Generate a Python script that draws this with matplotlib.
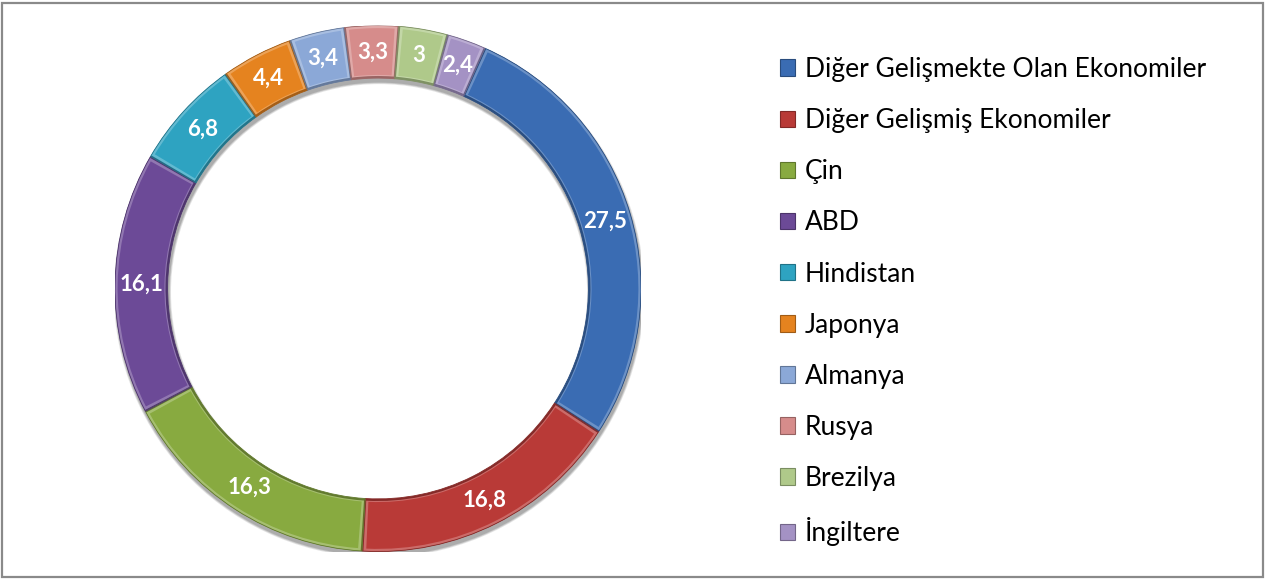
import matplotlib
matplotlib.use("Agg")
import matplotlib.pyplot as plt
from matplotlib.patches import Wedge, Patch, Rectangle
import matplotlib.colors as mcolors
import numpy as np

plt.rcParams['font.family'] = ['Lato', 'DejaVu Sans']

categories = ["Diğer Gelişmekte Olan Ekonomiler", "Diğer Gelişmiş Ekonomiler", "Çin", "ABD",
              "Hindistan", "Japonya", "Almanya", "Rusya", "Brezilya", "İngiltere"]
values = [27.5, 16.8, 16.3, 16.1, 6.8, 4.4, 3.4, 3.3, 3.0, 2.4]
value_labels = ["27,5", "16,8", "16,3", "16,1", "6,8", "4,4", "3,4", "3,3", "3", "2,4"]
colors = ["#3A6CB3", "#B93A37", "#88AA40", "#6C4A97", "#2EA3C1", "#E5831F",
          "#8BA8D7", "#D68C8B", "#AFC98A", "#A492C4"]

W, H, DPI = 1267, 579, 100
fig = plt.figure(figsize=(W / DPI, H / DPI), dpi=DPI)
fig.patch.set_facecolor("white")

cx, cy, R = 378, 288.5, 263
ax = fig.add_axes([(cx - R) / W, (H - cy - R) / H, 2 * R / W, 2 * R / H])

width = 0.2
# soft shadow
for k, a in [(0.018, 0.10), (0.012, 0.12), (0.006, 0.14)]:
    ax.add_patch(Wedge((0.004, -0.014), 1.0 + k * 0.5, 0, 360, width=width + k,
                       facecolor="#000000", edgecolor="none", alpha=a, zorder=0))

wedges, _ = ax.pie(values, startangle=66, counterclock=False, colors=colors,
                   radius=1.0, wedgeprops=dict(width=width, edgecolor="none"))
ax.set_xlim(-1, 1)
ax.set_ylim(-1, 1)
ax.set_aspect("equal")
ax.axis("off")

for w, c in zip(wedges, colors):
    rgb = np.array(mcolors.to_rgb(c))
    dark = np.clip(rgb * 0.72, 0, 1)
    light = np.clip(rgb + (1 - rgb) * 0.25, 0, 1)
    w.set_facecolor(dark)
    w.set_zorder(2)
    t1, t2 = w.theta1, w.theta2
    # lighter bevel band
    ax.add_patch(Wedge((0, 0), 1.0, t1 + 0.3, t2 - 0.3, width=width - 0.008,
                       facecolor=light, edgecolor="none", zorder=3))
    # main face
    ax.add_patch(Wedge((0, 0), 0.99, t1 + 0.9, t2 - 0.9, width=width - 0.022,
                       facecolor=c, edgecolor="none", zorder=4))
    ax.add_patch(Wedge((0, 0), 1.0, t1, t2, width=width,
                       facecolor="none", edgecolor=dark, linewidth=0.6, zorder=5))

for w, lab in zip(wedges, value_labels):
    ang = np.deg2rad((w.theta1 + w.theta2) / 2)
    r = 1 - width / 2
    ax.text(r * np.cos(ang), r * np.sin(ang), lab, ha="center", va="center",
            color="white", fontsize=16, fontweight="bold", zorder=6)

handles = []
for c in colors:
    rgb = np.array(mcolors.to_rgb(c))
    handles.append(Patch(facecolor=c, edgecolor=np.clip(rgb * 0.7, 0, 1), linewidth=0.8))

leg = fig.legend(handles, categories, loc="upper left",
                 bbox_to_anchor=(780 / W, 1 - 57 / H), frameon=False,
                 fontsize=19, handlelength=0.58, handleheight=0.58,
                 handletextpad=0.36, labelspacing=0.99, borderpad=0, borderaxespad=0)

fig.add_artist(Rectangle((1.5 / W, 2.5 / H), (1262.5 - 1.5) / W, (576.5 - 2.5) / H,
                         transform=fig.transFigure, facecolor="none",
                         edgecolor="#8A8A8A", linewidth=1.6))

fig.savefig("out.png", dpi=DPI)
